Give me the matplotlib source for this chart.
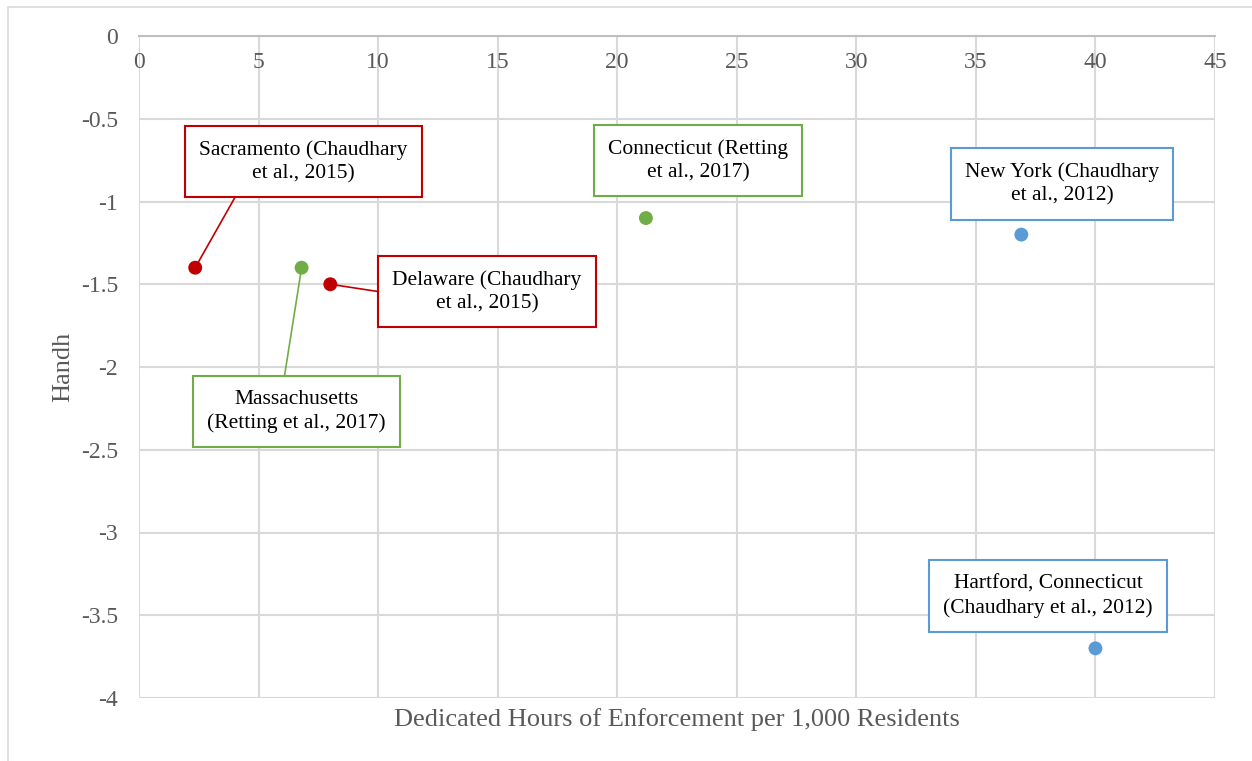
import matplotlib
matplotlib.use("Agg")
import matplotlib.pyplot as plt
from matplotlib.patches import Rectangle

# data
labels = ["Sacramento (Chaudhary\net al., 2015)",
          "Massachusetts\n(Retting et al., 2017)",
          "Delaware (Chaudhary\net al., 2015)",
          "Connecticut (Retting\net al., 2017)",
          "New York (Chaudhary\net al., 2012)",
          "Hartford, Connecticut\n(Chaudhary et al., 2012)"]
hours = [2.35, 6.8, 8.0, 21.2, 36.9, 40.0]
handh = [-1.4, -1.4, -1.5, -1.1, -1.2, -3.7]
colors = ["#C00000", "#70AD47", "#C00000", "#70AD47", "#5B9BD5", "#5B9BD5"]

x_ticks = [0, 5, 10, 15, 20, 25, 30, 35, 40, 45]
y_ticks = [0, -0.5, -1, -1.5, -2, -2.5, -3, -3.5, -4]

# where each label box sits (centre, data units) and where its leader line attaches
box_pos = [(6.88, -0.758), (6.59, -2.269), (14.55, -1.544),
           (23.38, -0.752), (38.6, -0.894), (38.02, -3.384)]
attach = [(0.21, 0.0), (0.42, 1.0), (0.0, 0.45), None, None, None]

plt.rcParams['font.family'] = ['Liberation Serif', 'DejaVu Serif']

fig = plt.figure(figsize=(12.52, 7.61), dpi=100)
ax = fig.add_axes([139 / 1252, 1 - 698 / 761, (1215 - 139) / 1252, (698 - 36) / 761])

# thin frame around the whole chart
fig.patches.append(Rectangle((8 / 1252, -0.01), 1.0, 1 - 7 / 761 + 0.01,
                             transform=fig.transFigure, fill=False,
                             edgecolor="#d9d9d9", linewidth=1.2))

ax.scatter(hours, handh, s=100, c=colors, zorder=5, linewidths=0)

for i, txt in enumerate(labels):
    props = None
    if attach[i] is not None:
        props = dict(arrowstyle="-", color=colors[i], lw=1.2,
                     relpos=attach[i], shrinkA=0, shrinkB=0)
    ax.annotate(txt, xy=(hours[i], handh[i]), xytext=box_pos[i],
                textcoords="data", ha="center", va="center",
                fontsize=15.5, color="black", linespacing=1.3,
                bbox=dict(boxstyle="square,pad=0.66", fc="white",
                          ec=colors[i], lw=1.5),
                arrowprops=props, zorder=4)

ax.set_xlim(0, 45)
ax.set_ylim(-4, 0)
ax.set_xticks(x_ticks)
ax.set_yticks(y_ticks)
ax.set_yticklabels([f"{v:g}" for v in y_ticks])

ax.grid(True, color="#d9d9d9", linewidth=1.5)
ax.set_axisbelow(True)
for s in ax.spines.values():
    s.set_visible(False)
ax.spines['top'].set_visible(True)
ax.spines['top'].set_color("#bfbfbf")
ax.spines['top'].set_linewidth(1.5)

ax.xaxis.set_ticks_position('top')
ax.tick_params(axis='x', length=0, pad=-27, labelsize=17, labelcolor="#595959")
ax.tick_params(axis='y', length=0, pad=15, labelsize=17, labelcolor="#595959")

ax.set_xlabel("Dedicated Hours of Enforcement per 1,000 Residents",
              fontsize=19, color="#595959", labelpad=7)
ax.set_ylabel("Handh", fontsize=19, color="#595959", labelpad=5)

fig.savefig("out.png", dpi=100)
